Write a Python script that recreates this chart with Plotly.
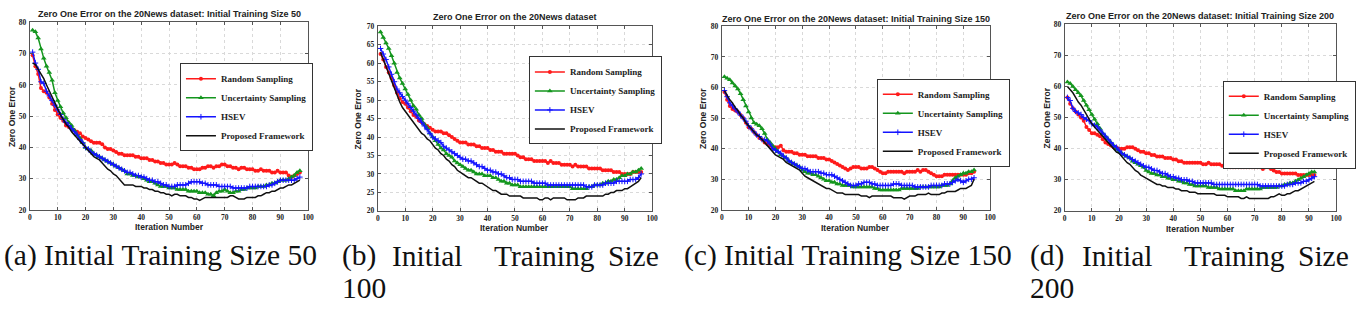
import plotly.graph_objects as go

W, H = 1363, 312

# ---------------- data ----------------
titles = [
    "Zero One Error on the 20News dataset: Initial Training Size 50",
    "Zero One Error on the 20News dataset",
    "Zero One Error on the 20News dataset: Initial Training Size 150",
    "Zero One Error on the 20News dataset: Initial Training Size 200",
]
series_names = ["Random Sampling", "Uncertainty Sampling", "HSEV", "Proposed Framework"]
x_tick_vals = [0, 10, 20, 30, 40, 50, 60, 70, 80, 90, 100]
y_tick_vals_a = [20, 30, 40, 50, 60, 70, 80]
y_tick_vals_b = [20, 25, 30, 35, 40, 45, 50, 55, 60, 65, 70]

# (a) initial training size 50
random_50 = [69.5, 66, 63.5, 59, 58, 57.5, 56, 54, 52, 50.5,
             49.5, 48.5, 47, 46.5, 46, 45.5, 45, 44.5, 43.5, 43,
             42.5, 42, 41.5, 41.5, 41.5, 41, 40, 39.5, 39.5, 39,
             38.5, 38, 38, 37.5, 37.5, 37.5, 37.5, 37, 37, 36.5,
             36.5, 36.5, 36, 36, 35.5, 35.5, 35, 35, 34.5, 34.5,
             34.5, 35, 34.5, 34, 34, 34, 33.5, 33.5, 33, 33,
             33, 33.5, 33.5, 34, 34, 33.5, 34, 34, 34.5, 34.5,
             34, 34, 33.5, 33.5, 33, 33.5, 33.5, 33, 33, 33,
             32.5, 32.5, 33, 32.5, 32.5, 32.5, 32, 32, 32.5, 32,
             32, 32, 31, 30.5, 31, 31.5, 32]
uncert_50 = [77.5, 77, 75, 71.5, 68.5, 66, 64, 61.5, 57.5, 55,
             53, 51, 49.5, 48, 47, 45.5, 44, 43, 41.5, 40,
             39.5, 39, 38, 37.5, 37, 36.5, 36, 35.5, 35, 34.5,
             34, 33.5, 33, 32.5, 31.5, 31.5, 31, 31, 30.5, 30.5,
             30, 29.5, 29, 29, 28.5, 28, 27.5, 27.5, 27.5, 27,
             27, 27, 26.5, 26.5, 26.5, 26.5, 26, 26, 26, 26,
             25.5, 25.5, 25.5, 25, 25, 24.5, 25.5, 26, 26, 26.5,
             26, 25.5, 25.5, 26, 26, 26.5, 26.5, 27, 27, 27,
             27, 27.5, 27.5, 27.5, 28, 28, 28.5, 28.5, 29, 29.5,
             29.5, 29.5, 30, 30.5, 31, 32, 32.5]
hsev_50 = [70.5, 67, 65, 61, 60.5, 58, 56.5, 55, 53.5, 52,
           50.5, 49, 48, 47, 46, 45, 44, 42.5, 41.5, 40,
           39.5, 38.5, 38, 37.5, 37, 36.5, 36, 35.5, 35, 34.5,
           34, 33.5, 33, 32.5, 32, 32, 31.5, 31, 31, 30.5,
           30.5, 30, 29.5, 29.5, 29, 29, 28.5, 28, 28, 27.5,
           27.5, 27.5, 28, 28, 28, 28, 28.5, 29, 29, 29,
           29, 28.5, 28.5, 28, 28, 28, 28, 27.5, 27.5, 27.5,
           27.5, 27.5, 27, 27, 27, 27, 27, 27, 27.5, 27.5,
           27.5, 27.5, 27.5, 27.5, 27.5, 28, 28, 28.5, 29, 29.5,
           29.5, 29.5, 29.5, 29.5, 29.5, 30, 30.5]
proposed_50 = [67, 66.5, 65, 63.5, 62, 60, 58, 56, 54, 52,
               50.5, 49, 47.5, 46.5, 45, 44, 43, 42, 41, 40,
               39, 38, 37, 36.5, 36, 35, 34, 33, 32.5, 31.5,
               31, 30, 29, 28, 28, 28, 28, 27.5, 27.5, 27.5,
               27, 27, 26.5, 26.5, 26, 26, 25.5, 25.5, 25, 25,
               24.5, 25, 25, 24.5, 24.5, 24.5, 24, 24, 23.5, 23.5,
               23, 23.5, 24, 24, 24, 24, 24, 24, 24, 24,
               24, 24.5, 24.5, 24, 23.5, 23.5, 23.5, 24, 24, 24,
               24, 24.5, 24.5, 25, 25.5, 25.5, 26, 26, 26.5, 27,
               27, 27.5, 28, 28, 28.5, 29, 29.5]

# (b) initial training size 100
random_100 = [62.5, 61, 59, 57.5, 56, 54, 52, 50.5, 49.5, 49,
              48, 47, 46, 45.5, 44.5, 44, 43.5, 43, 42.5, 42,
              41.5, 41.5, 41.5, 41, 41, 40.5, 40, 39.5, 39, 38.5,
              38.5, 38.5, 38, 38, 38, 37.5, 37.5, 37, 37, 37,
              36.5, 36.5, 36, 36, 36, 35.5, 35.5, 35.5, 35.5, 35.5,
              35, 34.5, 34.5, 34, 34, 34, 33.5, 33.5, 33.5, 33.5,
              33.5, 33, 33.5, 33, 33, 33, 32.5, 32.5, 32.5, 32.5,
              32, 32.5, 32, 32, 32, 32, 31.5, 31.5, 31.5, 31.5,
              31.5, 31, 31, 31, 31, 30.5, 30.5, 30.5, 30, 30,
              30, 30, 30.5, 30.5, 30.5, 30.5]
uncert_100 = [68.5, 67, 65.5, 64, 62, 60, 57.5, 56, 54.5, 53,
              51.5, 50, 48.5, 47.5, 46, 45, 43.5, 42.5, 41, 40,
              39, 38, 37, 36.5, 35.5, 35, 34.5, 33.5, 33, 32.5,
              32, 31.5, 31, 31, 30.5, 30, 30, 30, 29.5, 29.5,
              29.5, 29, 29, 28.5, 28, 28, 27.5, 27.5, 27, 27,
              27, 26.5, 26.5, 26.5, 26.5, 26.5, 26.5, 26.5, 26.5, 26.5,
              26.5, 26.5, 26.5, 26.5, 26.5, 26.5, 26.5, 26.5, 26.5, 26.5,
              26, 26, 26, 26, 26, 26, 26.5, 26.5, 27, 27,
              27, 27.5, 27.5, 28, 28, 28.5, 28.5, 29, 29.5, 29.5,
              30, 30, 30.5, 30.5, 31, 31.5]
hsev_100 = [64, 62.5, 61, 59, 57, 55, 53, 52, 51, 50,
            49, 48, 47, 46, 45, 44, 43, 42, 41, 40,
            39.5, 39, 38.5, 37.5, 37, 36.5, 36, 35.5, 35, 34.5,
            34, 34, 33.5, 33.5, 33, 32.5, 32, 32, 31.5, 31,
            31, 30.5, 30.5, 30, 30, 29.5, 29, 29, 28.5, 28.5,
            28.5, 28, 28, 28, 28, 28, 27.5, 27.5, 27.5, 27.5,
            27.5, 27, 27, 27, 27, 27, 27, 27, 27, 27,
            27, 27, 27, 27, 27, 26.5, 26.5, 26.5, 27, 27,
            27, 27, 27.5, 27.5, 27.5, 27.5, 28, 28, 28, 28,
            28, 28.5, 28.5, 28.5, 29, 30]
proposed_100 = [63, 61, 59, 57, 55, 53, 51, 49.5, 48, 47,
                46, 45, 44, 43, 42, 41, 40.5, 39.5, 39, 38,
                37, 36.5, 35.5, 35, 34, 33.5, 32.5, 32, 31, 30.5,
                30, 29.5, 29, 29, 28.5, 28, 27.5, 27.5, 27, 26.5,
                26, 25.5, 25.5, 25, 24.5, 24.5, 24.5, 24, 24, 24,
                24, 24, 23.5, 23.5, 23.5, 23.5, 23.5, 23.5, 23, 23,
                23.5, 23.5, 23, 23.5, 23.5, 23.5, 23.5, 23.5, 23, 23,
                23, 23, 23.5, 23.5, 23.5, 24, 24, 24, 24, 24,
                24, 24, 24.5, 24.5, 25, 25, 25.5, 25.5, 25.5, 26,
                26, 26.5, 27, 27.5, 28, 29]

# (c) initial training size 150
random_150 = [58.5, 56, 54, 53, 52.5, 52, 51, 50, 48.5, 47,
              46.5, 45.5, 44.5, 43.5, 43, 42, 41.5, 41, 40.5, 40.5,
              40.5, 41, 39.5, 39, 39, 39, 38.5, 38.5, 38, 38,
              38, 37.5, 37.5, 37.5, 37.5, 37, 37, 37, 36.5, 36.5,
              36, 35.5, 35, 34.5, 34, 33.5, 33, 33.5, 34, 34,
              34, 33.5, 33.5, 33.5, 34, 34, 33.5, 33, 32.5, 32,
              32, 32.5, 32.5, 32.5, 32.5, 32.5, 32.5, 32, 32.5, 32.5,
              32.5, 32.5, 33, 32.5, 33, 33, 32.5, 32, 31.5, 31,
              31, 31, 31.5, 31.5, 31.5, 31.5, 31.5, 31.5, 31.5, 31.5,
              31.5, 32, 32, 32.5]
uncert_150 = [63.5, 63, 62.5, 61.5, 60.5, 59.5, 58, 56, 54, 52,
              50, 48.5, 48, 47.5, 46.5, 45, 43, 42, 41, 40,
              39, 38, 37.5, 37, 36, 35.5, 35, 34.5, 34, 33,
              32.5, 32, 32, 31.5, 31.5, 31, 30.5, 30, 29.5, 29.5,
              29, 29, 28.5, 28.5, 28, 28, 28, 28, 27.5, 27.5,
              27.5, 27.5, 27.5, 27.5, 27.5, 27.5, 27, 27, 26.5, 26.5,
              26.5, 26.5, 26.5, 26.5, 26.5, 26.5, 27, 27, 27, 27,
              27, 27, 27, 27.5, 27.5, 27.5, 27.5, 27.5, 27.5, 27.5,
              27.5, 28, 28, 28, 28.5, 29.5, 30.5, 31, 31.5, 32,
              32, 32.5, 32.5, 33]
hsev_150 = [59, 57, 55, 54, 53, 52, 51, 50, 49, 47.5,
            46.5, 45.5, 44.5, 44, 43, 43, 42.5, 41.5, 40, 39.5,
            39, 38.5, 37.5, 37, 36, 35.5, 35, 34.5, 34, 33.5,
            33.5, 33, 32.5, 32.5, 32.5, 32.5, 32, 32, 31.5, 31.5,
            31.5, 31, 30.5, 30, 29.5, 29, 28.5, 28, 28, 28,
            28.5, 28.5, 29, 29, 29, 28.5, 28.5, 28, 28, 28,
            28, 28, 28, 28.5, 28.5, 28.5, 28, 28, 28, 28,
            28, 27.5, 27.5, 27.5, 27.5, 27.5, 27.5, 28, 28, 28,
            28, 28, 28.5, 28.5, 28.5, 29, 29.5, 30, 29.5, 29,
            29.5, 30, 30, 30.5]
proposed_150 = [59, 57.5, 56, 55, 53.5, 52.5, 51, 50, 48.5, 47.5,
                46.5, 45.5, 44.5, 44, 43, 42, 41, 40, 39, 38,
                37.5, 37, 36.5, 35.5, 35, 34.5, 34, 33.5, 33, 32,
                31, 30.5, 30, 29.5, 29, 28.5, 28, 27.5, 27, 27,
                26.5, 26, 25.5, 25.5, 25.5, 25, 25, 25, 25, 25,
                25, 24.5, 24.5, 24.5, 24, 24.5, 24.5, 24.5, 24.5, 24.5,
                24.5, 24.5, 24.5, 24, 24, 24, 24, 23.5, 24, 24.5,
                24.5, 24.5, 25, 25, 25, 25, 25.5, 25, 25, 25,
                25, 25.5, 25.5, 26, 26, 26, 26, 26.5, 27, 27,
                27, 27.5, 28, 30]

# (d) initial training size 200
random_200 = [56.5, 54.5, 53, 52, 51, 50, 49, 47, 46, 45,
              45, 44.5, 44, 43, 42, 41.5, 41, 40.5, 40.5, 40,
              40, 40, 40.5, 40.5, 40.5, 40, 39.5, 39, 39, 38.5,
              38.5, 38, 38, 37.5, 37.5, 37.5, 37, 37, 37, 36.5,
              36.5, 36, 36, 35.5, 35.5, 35.5, 35.5, 35.5, 35.5, 35.5,
              35, 35, 35.5, 35, 35, 35, 35, 34.5, 34.5, 34.5,
              34, 34, 34, 34, 34, 34, 34, 34, 34, 34,
              34, 34, 33.5, 34, 34, 33.5, 33, 32.5, 32.5, 32,
              32, 32, 32, 32, 32, 31.5, 31.5, 31.5, 31.5, 31.5,
              31.5, 31.5]
uncert_200 = [61.5, 61, 60, 59, 58, 57, 55.5, 54, 52.5, 51,
              49.5, 48, 46.5, 45, 44, 43, 42, 41, 40, 39,
              38.5, 38, 37.5, 37, 36, 35.5, 35, 34.5, 34, 33,
              32.5, 32, 32, 31.5, 31.5, 31, 31, 30.5, 30.5, 30,
              30, 29.5, 29.5, 29, 29, 28.5, 28.5, 28, 28, 28,
              28, 28, 27.5, 27.5, 27.5, 27.5, 27, 27, 27, 27,
              27, 27, 26.5, 26.5, 26.5, 26.5, 27, 27, 27, 27,
              27, 27, 27.5, 27.5, 27.5, 27.5, 27.5, 27.5, 28, 28,
              28.5, 28.5, 29, 29, 29.5, 30, 30.5, 31, 31.5, 32,
              32.5, 32.5]
hsev_200 = [56.5, 55.5, 53, 52, 51.5, 51, 50, 49.5, 49, 48,
            47.5, 47, 46, 45, 44, 43, 42, 41, 40.5, 39.5,
            38.5, 38, 37.5, 37, 36.5, 36, 35.5, 35, 34.5, 34,
            34, 33.5, 33, 33, 32.5, 32, 32, 31.5, 31, 31,
            30.5, 30.5, 30, 30, 30, 29.5, 29.5, 29, 29, 29,
            29, 29, 29, 29, 28.5, 28.5, 28.5, 28.5, 28.5, 28.5,
            28.5, 28.5, 28.5, 28.5, 28.5, 28.5, 28.5, 28.5, 28.5, 28.5,
            28.5, 28, 28, 28, 28, 28, 28, 28, 28, 28,
            28, 28.5, 28.5, 28.5, 29, 29, 29, 29.5, 29.5, 30,
            30.5, 31]
proposed_200 = [60, 59, 58, 56.5, 55, 54, 52.5, 51, 49.5, 48,
                47, 46, 45, 44, 43, 42, 41, 40, 39, 38.5,
                37.5, 36.5, 35.5, 35, 34, 33, 32.5, 31.5, 31, 30.5,
                30, 29.5, 29, 28.5, 28.5, 28, 28, 27.5, 27.5, 27.5,
                27, 27, 26.5, 26.5, 26.5, 26, 26, 26, 25.5, 25.5,
                25.5, 25.5, 25.5, 25.5, 25.5, 25, 25, 25, 25, 24.5,
                24.5, 24.5, 24.5, 24.5, 24, 24, 24.5, 24, 24, 24,
                24, 24, 24, 24, 24, 24.5, 24.5, 25, 25.5, 25,
                25, 25.5, 25.5, 26, 26.5, 26.5, 27, 27.5, 28, 28.5,
                29, 29.5]

panels_data = [
    [random_50, uncert_50, hsev_50, proposed_50],
    [random_100, uncert_100, hsev_100, proposed_100],
    [random_150, uncert_150, hsev_150, proposed_150],
    [random_200, uncert_200, hsev_200, proposed_200],
]
y_ranges = [[20, 80], [20, 70], [20, 80], [20, 80]]
y_ticks = [y_tick_vals_a, y_tick_vals_b, y_tick_vals_a, y_tick_vals_a]

# ---------------- layout geometry (pixels) ----------------
boxes = [(28, 308, 19, 212), (378, 654, 23, 213), (724, 994, 23, 212), (1069, 1342, 21, 213)]
legend_pos = [(179, 61), (530, 54), (880, 77), (1228, 79)]
title_y = [10, 13, 15, 12]
ytitle_x = [10, 358, 705, 1051]
xtitle_y = [230, 231, 231, 232]

def px(x):
    return x / W

def py(y):
    return 1 - y / H

styles = [
    dict(mode="lines+markers", line=dict(color="#ff1a1a", width=1.5),
         marker=dict(symbol="circle", size=4, color="#ff1a1a")),
    dict(mode="lines+markers", line=dict(color="#14961e", width=1.5),
         marker=dict(symbol="triangle-up", size=5, color="#14961e")),
    dict(mode="lines+markers", line=dict(color="#1414ff", width=1.5),
         marker=dict(symbol="cross-thin", size=4, color="#1414ff",
                     line=dict(color="#1414ff", width=1))),
    dict(mode="lines", line=dict(color="#111111", width=1.5)),
]

fig = go.Figure()
layout = dict(width=W, height=H, margin=dict(l=0, r=0, t=0, b=0),
              paper_bgcolor="white", plot_bgcolor="white", showlegend=True)

annotations = []
tick_font = dict(family="Liberation Serif", size=7.5, color="#222222", weight="bold")
axis_font = dict(family="Liberation Sans", size=8.5, color="#222222")

for i in range(4):
    n = i + 1
    xa = "x" if n == 1 else f"x{n}"
    ya = "y" if n == 1 else f"y{n}"
    leg = "legend" if n == 1 else f"legend{n}"
    x0, x1, y0, y1 = boxes[i]
    for j in range(4):
        vals = panels_data[i][j]
        fig.add_trace(go.Scatter(
            x=list(range(1, len(vals) + 1)), y=vals, name=series_names[j],
            xaxis=xa, yaxis=ya, legend=leg, **styles[j]))
    common = dict(showline=True, linecolor="#555555", linewidth=1, mirror="ticks",
                  ticks="inside", ticklen=3, tickcolor="#555555",
                  showgrid=True, gridcolor="#d9d9d9", griddash="dot", gridwidth=1,
                  zeroline=False, tickfont=tick_font)
    layout["xaxis" if n == 1 else f"xaxis{n}"] = dict(
        domain=[px(x0), px(x1)], anchor=ya, range=[0, 100], tickvals=x_tick_vals,
        ticklabelstandoff=0, **common)
    layout["yaxis" if n == 1 else f"yaxis{n}"] = dict(
        domain=[py(y1), py(y0)], anchor=xa, range=y_ranges[i], tickvals=y_ticks[i],
        ticklabelstandoff=1, **common)
    lx, ly = legend_pos[i]
    layout[leg] = dict(x=px(lx), y=py(ly), xanchor="left", yanchor="top",
                       bgcolor="white", bordercolor="#333333", borderwidth=1,
                       font=dict(family="Liberation Serif", size=9, color="#222222",
                                 weight="bold"),
                       tracegroupgap=0, itemwidth=30)
    cx = (x0 + x1) / 2
    annotations.append(dict(text=f"<b>{titles[i]}</b>", x=px(cx), y=py(title_y[i]),
                            xref="paper", yref="paper", showarrow=False,
                            xanchor="center", yanchor="middle",
                            font=dict(family="Liberation Sans", size=9, color="#222222")))
    annotations.append(dict(text="<b>Zero One Error</b>", x=px(ytitle_x[i]),
                            y=py((y0 + y1) / 2), xref="paper", yref="paper",
                            showarrow=False, textangle=-90, xanchor="center",
                            yanchor="middle", font=axis_font))
    annotations.append(dict(text="<b>Iteration Number</b>", x=px(cx), y=py(xtitle_y[i]),
                            xref="paper", yref="paper", showarrow=False,
                            xanchor="center", yanchor="middle", font=axis_font))

# ---------------- captions ----------------
cap_font = dict(family="Liberation Serif", size=29.5, color="#111111")
line1_y = 259
line2_y = 292
caption_words = [
    ("(a) Initial Training Size 50", 0, "left", line1_y),
    ("(b)", 340, "left", line1_y),
    ("Initial", 390, "left", line1_y),
    ("Training", 493, "left", line1_y),
    ("Size", 663, "right", line1_y),
    ("100", 340, "left", line2_y),
    ("(c) Initial Training Size 150", 684, "left", line1_y),
    ("(d)", 1032, "left", line1_y),
    ("Initial", 1084, "left", line1_y),
    ("Training", 1187, "left", line1_y),
    ("Size", 1357, "right", line1_y),
    ("200", 1032, "left", line2_y),
]
for text, x, anchor, y in caption_words:
    annotations.append(dict(text=text, x=px(x), y=py(y), xref="paper", yref="paper",
                            showarrow=False, xanchor=anchor, yanchor="middle",
                            font=cap_font))

layout["annotations"] = annotations
fig.update_layout(**layout)
fig.write_html("out.html")
